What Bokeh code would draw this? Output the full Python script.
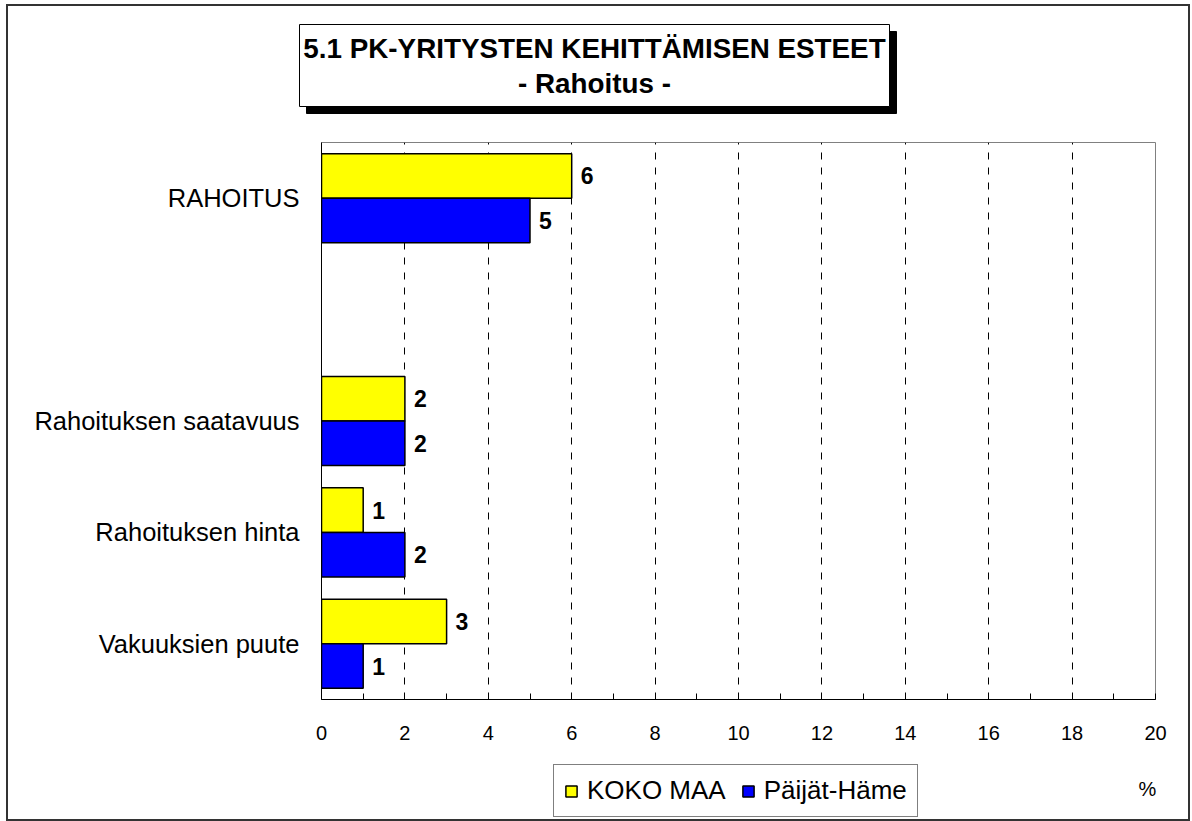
from bokeh.plotting import figure
from bokeh.layouts import column
from bokeh.models import (ColumnDataSource, FactorRange, Range1d, FixedTicker)
from bokeh.transform import dodge
from bokeh.core.properties import value
from bokeh.embed import file_html
from bokeh.resources import INLINE

# ---- data ----
categories = ["RAHOITUS", "Rahoituksen saatavuus", "Rahoituksen hinta", "Vakuuksien puute"]
koko_maa = [6, 2, 1, 3]
paijat_hame = [5, 2, 2, 1]
x_ticks = [0, 2, 4, 6, 8, 10, 12, 14, 16, 18, 20]
x_minor = [1, 3, 5, 7, 9, 11, 13, 15, 17, 19]
series_names = ["KOKO MAA", "Päijät-Häme"]
series_colors = ["#FFFF00", "#0000FF"]
title_line1 = "5.1 PK-YRITYSTEN KEHITTÄMISEN ESTEET"
title_line2 = "- Rahoitus -"
unit_label = "%"

FONT = "Liberation Sans"
W = 1180
H_TOP, H_MAIN, H_BOT = 130, 624, 59


def blank_fig(h):
    f = figure(width=W, height=h, output_backend="svg", toolbar_location=None,
               x_range=Range1d(0, W), y_range=Range1d(h, 0),
               x_axis_location=None, y_axis_location=None,
               min_border=0, min_border_left=0, min_border_right=0,
               min_border_top=0, min_border_bottom=0)
    f.grid.visible = False
    f.outline_line_color = None
    f.background_fill_color = "white"
    f.border_fill_color = "white"
    f.frame_align = False
    return f


# ---- title panel ----
top = blank_fig(H_TOP)
bx0, bx1, by0, by1 = 291, 881, 18, 100
top.quad(left=[bx0 + 7], right=[bx1 + 7], top=[by0 + 7], bottom=[by1 + 7],
         fill_color="black", line_color="black")
top.quad(left=[bx0], right=[bx1], top=[by0], bottom=[by1],
         fill_color="white", line_color="black", line_width=1)
cx = (bx0 + bx1) / 2
top.text(x=[cx, cx], y=[42, 77], text=[title_line1, title_line2],
         text_align="center", text_baseline="middle",
         text_font=value(FONT), text_font_size="27.8px", text_font_style="bold",
         text_color="black")

# ---- main chart ----
factors = [categories[3], categories[2], categories[1], " ", categories[0]]
src = ColumnDataSource(dict(
    cat=categories,
    koko=koko_maa,
    paijat=paijat_hame,
    koko_s=[str(v) for v in koko_maa],
    paijat_s=[str(v) for v in paijat_hame],
))

p = figure(width=W, height=H_MAIN, output_backend="svg", toolbar_location=None,
           y_range=FactorRange(factors=factors, range_padding=0),
           x_range=Range1d(0, 20),
           min_border_left=313, min_border_top=6, min_border_right=33, min_border_bottom=61)
p.frame_align = False
p.background_fill_color = "white"
p.border_fill_color = "white"
p.outline_line_color = "#808080"
p.outline_line_width = 1

p.ygrid.visible = False
p.xgrid.ticker = FixedTicker(ticks=x_ticks[1:-1])
p.xgrid.grid_line_color = "black"
p.xgrid.grid_line_dash = "7 8"
p.xgrid.grid_line_width = 1

p.hbar(y=dodge("cat", 0.2, range=p.y_range), right="koko", height=0.4, source=src,
       fill_color=series_colors[0], line_color="black", line_width=1.5)
p.hbar(y=dodge("cat", -0.2, range=p.y_range), right="paijat", height=0.4, source=src,
       fill_color=series_colors[1], line_color="black", line_width=1.5)

p.text(x="koko", y=dodge("cat", 0.2, range=p.y_range), text="koko_s", source=src,
       x_offset=9, text_baseline="middle", text_align="left",
       text_font=value(FONT), text_font_size="23px", text_font_style="bold", text_color="black")
p.text(x="paijat", y=dodge("cat", -0.2, range=p.y_range), text="paijat_s", source=src,
       x_offset=9, text_baseline="middle", text_align="left",
       text_font=value(FONT), text_font_size="23px", text_font_style="bold", text_color="black")

xa = p.xaxis[0]
xa.ticker = FixedTicker(ticks=x_ticks, minor_ticks=x_minor)
xa.major_tick_in = 6
xa.major_tick_out = 0
xa.minor_tick_in = 6
xa.minor_tick_out = 0
xa.major_tick_line_color = "black"
xa.minor_tick_line_color = "black"
xa.axis_line_color = "black"
xa.major_label_text_font = FONT
xa.major_label_text_font_size = "20px"
xa.major_label_text_color = "black"
xa.major_label_standoff = 26

ya = p.yaxis[0]
ya.major_tick_in = 0
ya.major_tick_out = 0
ya.minor_tick_line_color = None
ya.axis_line_color = "black"
ya.major_label_text_font = FONT
ya.major_label_text_font_size = "25.5px"
ya.major_label_text_color = "black"
ya.major_label_standoff = 22

# ---- bottom panel: legend and unit ----
bot = blank_fig(H_BOT)
for name, col in zip(series_names, series_colors):
    # tiny legend swatch renderers, hidden underneath the legend box
    bot.hbar(y=[34], right=[701], left=[700], height=1, fill_color=col,
             line_color=None, legend_label=name)
bot.text(x=[1139], y=[28], text=[unit_label], text_align="center", text_baseline="middle",
         text_font=value(FONT), text_font_size="20px", text_color="black")
for r in bot.renderers[:2]:
    r.glyph.line_color = "black"
    r.glyph.line_width = 1.5
lg = bot.legend[0]
lg.orientation = "horizontal"
lg.location = (545, 2)
lg.border_line_color = "black"
lg.border_line_width = 1
lg.background_fill_color = "white"
lg.background_fill_alpha = 1
lg.label_text_font = FONT
lg.label_text_font_size = "26px"
lg.label_text_color = "black"
lg.glyph_width = 14
lg.glyph_height = 14
lg.label_standoff = 9
lg.spacing = 15
lg.padding = 10
lg.margin = 0

layout = column(top, p, bot, spacing=0,
                styles={"border": "2px solid #333333", "margin-left": "6px",
                        "margin-top": "4px"})

open("out.html", "w").write(file_html(layout, INLINE))
